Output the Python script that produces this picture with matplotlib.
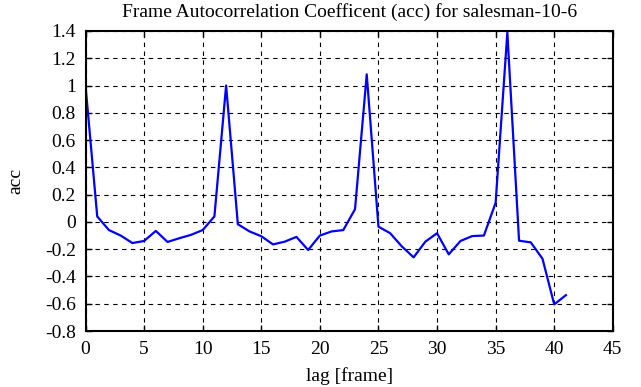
import matplotlib
matplotlib.use('Agg')
import matplotlib.pyplot as plt
import numpy as np

# lag values (frames) and autocorrelation coefficients
lag = np.arange(0, 42)
acc = [1.0, 0.04, -0.06, -0.10, -0.155, -0.14, -0.066, -0.147, -0.12, -0.095,
       -0.06, 0.04, 1.0, -0.017, -0.07, -0.105, -0.165, -0.145, -0.11, -0.206,
       -0.10, -0.07, -0.06, 0.093, 1.082, -0.035, -0.083, -0.18, -0.26, -0.145,
       -0.083, -0.238, -0.14, -0.104, -0.10, 0.14, 1.388, -0.138, -0.15, -0.27,
       -0.605, -0.537]

x_ticks = np.arange(0, 46, 5)
y_ticks = np.round(np.arange(-0.8, 1.41, 0.2), 1)

plt.rcParams['font.family'] = ['Liberation Serif', 'DejaVu Serif']

fig = plt.figure(figsize=(6.41, 3.87), dpi=100)
ax = fig.add_axes([0.1334, 0.1447, 0.8226, 0.7753])

ax.plot(lag, acc, color='#0000ff', linewidth=1.6)

ax.set_xlim(0, 45)
ax.set_ylim(-0.8, 1.4)
ax.set_xticks(x_ticks)
ax.set_yticks(y_ticks)
ax.set_yticklabels(['%g' % v if abs(v) > 1e-9 else '0' for v in y_ticks])

ax.grid(True, color='black', linestyle=(0, (4, 4)), linewidth=0.8)
ax.tick_params(direction='in', top=True, right=True, length=4, width=1,
               labelsize=14)
ax.tick_params(axis='y', pad=7)
ax.tick_params(axis='x', pad=7)
for s in ax.spines.values():
    s.set_linewidth(1.5)

ax.set_title('Frame Autocorrelation Coefficent (acc) for salesman-10-6', fontsize=14, pad=10)
ax.set_xlabel('lag [frame]', fontsize=14, labelpad=7)
ax.set_ylabel('acc', fontsize=14, labelpad=15)

fig.savefig('out.png', dpi=100)
